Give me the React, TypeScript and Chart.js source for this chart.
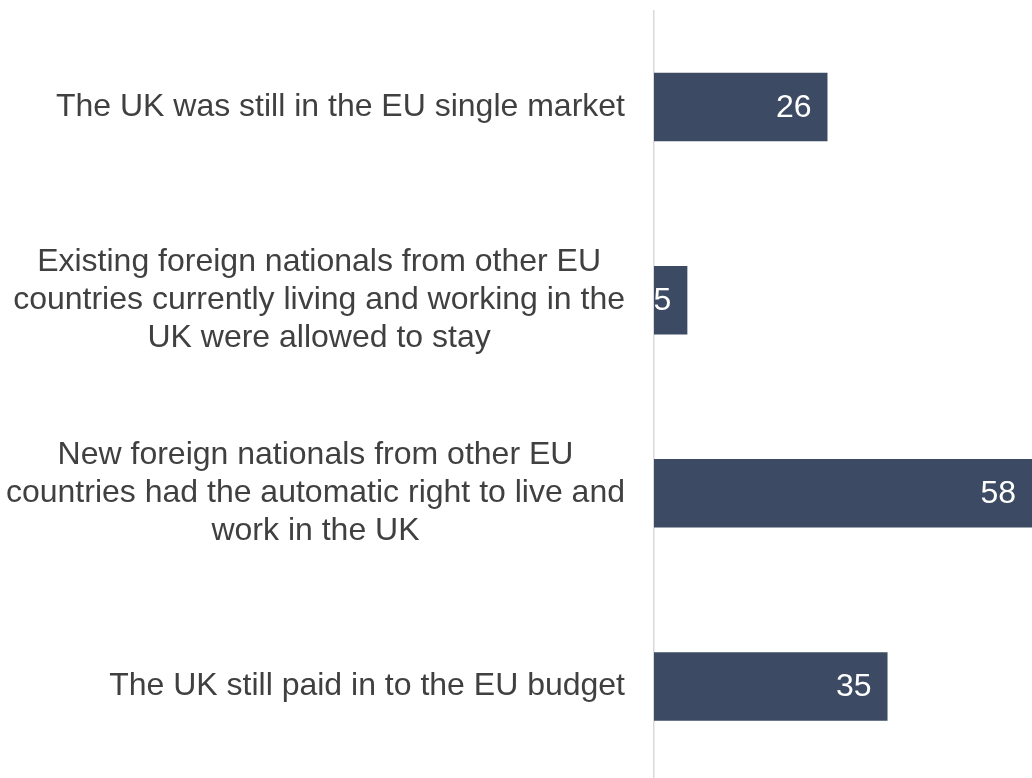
import React, { useEffect, useRef } from "react";
import { Chart, registerables } from "chart.js";

Chart.register(...registerables);

const categories: string[][] = [
  ["The UK was still in the EU single market"],
  [
    "Existing foreign nationals from other EU",
    "countries currently living and working in the",
    "UK were allowed to stay",
  ],
  [
    "New foreign nationals from other EU",
    "countries had the automatic right to live and",
    "work in the UK",
  ],
  ["The UK still paid in to the EU budget"],
];
const values: number[] = [26, 5, 58, 35];
const axisMin = 0;
const axisMax = 58;

const FONT = '32px "Liberation Sans", Arial, Helvetica, sans-serif';
const BAR_COLOR = "#3d4a63";
const LABEL_COLOR = "#404040";
const AXIS_COLOR = "#d9d9d9";
const AXIS_X = 654;
const LINE_H = 38;
const VIEW_W = 1032;
const CANVAS_W = 1041;
const CANVAS_H = 783;

const categoryLabelPlugin = {
  id: "categoryLabels",
  afterDraw(chart: any) {
    const ctx = chart.ctx;
    const yScale = chart.scales.y;
    ctx.save();
    ctx.font = FONT;
    ctx.fillStyle = LABEL_COLOR;
    ctx.textAlign = "center";
    ctx.textBaseline = "middle";
    const labels = chart.data.labels as string[][];
    labels.forEach((lines, i) => {
      const cy = yScale.getPixelForTick(i);
      const maxW = Math.max(...lines.map((l) => ctx.measureText(l).width));
      const right = AXIS_X - 29;
      const cx = right - maxW / 2;
      const startY = cy - ((lines.length - 1) * LINE_H) / 2;
      lines.forEach((line, j) => {
        ctx.fillText(line, cx, startY + j * LINE_H);
      });
    });
    ctx.restore();
  },
};

const valueLabelPlugin = {
  id: "valueLabels",
  afterDatasetsDraw(chart: any) {
    const ctx = chart.ctx;
    const meta = chart.getDatasetMeta(0);
    const data = chart.data.datasets[0].data as number[];
    ctx.save();
    ctx.font = FONT;
    ctx.fillStyle = "#ffffff";
    ctx.textAlign = "right";
    ctx.textBaseline = "middle";
    meta.data.forEach((el: any, i: number) => {
      const end = Math.min(el.x, VIEW_W);
      ctx.fillText(String(data[i]), end - 16, el.y + 1);
    });
    ctx.restore();
  },
};

export default function App() {
  const canvasRef = useRef<HTMLCanvasElement | null>(null);

  useEffect(() => {
    if (!canvasRef.current) return;
    const chart = new Chart(canvasRef.current, {
      type: "bar",
      data: {
        labels: categories as any,
        datasets: [
          {
            data: values,
            backgroundColor: BAR_COLOR,
            borderWidth: 0,
            barPercentage: 0.355,
            categoryPercentage: 1,
          },
        ],
      },
      options: {
        indexAxis: "y",
        animation: false,
        responsive: false,
        maintainAspectRatio: false,
        layout: { padding: { top: 10.5, bottom: 0, left: 0, right: 0 } },
        plugins: {
          legend: { display: false },
          tooltip: { enabled: false },
        },
        scales: {
          x: {
            display: false,
            min: axisMin,
            max: axisMax,
          },
          y: {
            type: "category",
            grid: { display: false, drawTicks: false },
            border: { display: true, color: AXIS_COLOR, width: 1.5 },
            ticks: { display: false },
            afterFit: (s: any) => {
              s.width = AXIS_X;
            },
          },
        },
      },
      plugins: [categoryLabelPlugin, valueLabelPlugin],
    });
    return () => chart.destroy();
  }, []);

  return (
    <div
      style={{
        position: "absolute",
        left: 0,
        top: 0,
        width: VIEW_W,
        height: CANVAS_H,
        overflow: "hidden",
        background: "#fff",
      }}
    >
      <canvas
        ref={canvasRef}
        width={CANVAS_W}
        height={CANVAS_H}
        style={{ display: "block", width: CANVAS_W, height: CANVAS_H }}
      />
    </div>
  );
}
